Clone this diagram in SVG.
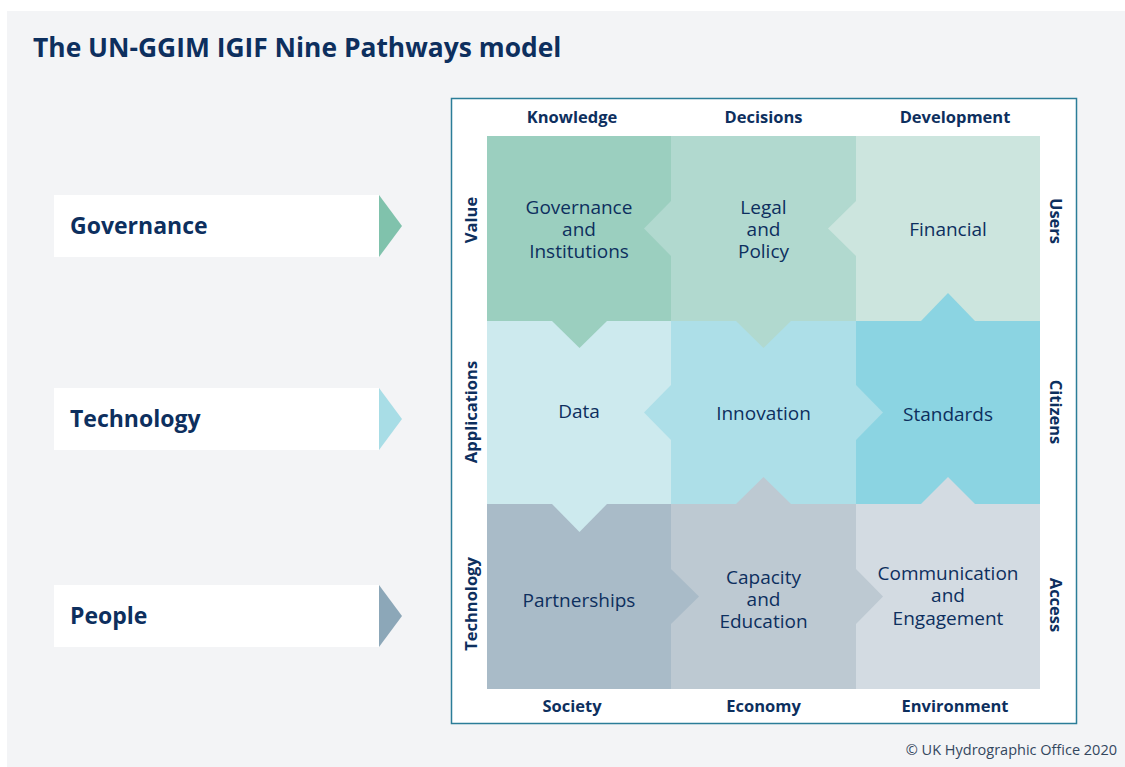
<svg xmlns="http://www.w3.org/2000/svg" width="1125" height="767" viewBox="0 0 1125 767">
  <style>
    text { font-family: "Open Sans", "Liberation Sans", sans-serif; fill: #0d2f5e; }
    .title { font-size: 26.4px; font-weight: 700; }
    .pillar { font-size: 23px; font-weight: 700; }
    .axis { font-size: 16.5px; font-weight: 700; text-anchor: middle; }
    .cell { font-size: 19px; text-anchor: middle; }
    .credit { font-size: 14.5px; text-anchor: end; fill: #33475e; }
    .box { fill: #ffffff; }
  </style>

  <!-- page background -->
  <rect x="0" y="0" width="1125" height="767" fill="#ffffff"/>
  <rect x="7" y="11" width="1118" height="756" fill="#f3f4f6"/>

  <text class="title" x="33" y="57">The UN-GGIM IGIF Nine Pathways model</text>

  <!-- strategic pillars -->
  <g id="pillar-governance">
    <rect class="box" x="54" y="195" width="325" height="62"/>
    <polygon points="379,195 402,226 379,257" fill="#80c2ac"/>
    <text class="pillar" x="70" y="234">Governance</text>
  </g>
  <g id="pillar-technology">
    <rect class="box" x="54" y="388" width="325" height="62"/>
    <polygon points="379,388 402,419 379,450" fill="#a8dde6"/>
    <text class="pillar" x="70" y="427">Technology</text>
  </g>
  <g id="pillar-people">
    <rect class="box" x="54" y="585" width="325" height="62"/>
    <polygon points="379,585 402,616 379,647" fill="#8ca7b8"/>
    <text class="pillar" x="70" y="624">People</text>
  </g>

  <!-- framed matrix -->
  <g id="frame">
    <rect x="451.5" y="98.5" width="625" height="625" fill="#ffffff" stroke="#2b7d98" stroke-width="1.5"/>
  </g>

  <!-- pathway cells -->
  <g id="cell-governance">
    <rect x="487" y="136" width="184" height="185" fill="#9bcfbf"/>
  </g>
  <g id="cell-legal">
    <rect x="671" y="136" width="185" height="185" fill="#b1d9cf"/>
  </g>
  <g id="cell-financial">
    <rect x="856" y="136" width="184" height="185" fill="#cce5de"/>
  </g>
  <g id="cell-data">
    <rect x="487" y="321" width="184" height="183" fill="#cdeaee"/>
  </g>
  <g id="cell-innovation">
    <rect x="671" y="321" width="185" height="183" fill="#addfe8"/>
  </g>
  <g id="cell-standards">
    <rect x="856" y="321" width="184" height="183" fill="#8bd4e2"/>
  </g>
  <g id="cell-partnerships">
    <rect x="487" y="504" width="184" height="185" fill="#a9bbc8"/>
  </g>
  <g id="cell-capacity">
    <rect x="671" y="504" width="185" height="185" fill="#bdc9d2"/>
  </g>
  <g id="cell-communication">
    <rect x="856" y="504" width="184" height="185" fill="#d3dbe2"/>
  </g>

  <!-- interlocking tabs between neighbouring cells -->
  <g id="connectors">
    <polygon points="552,321 579.5,348 607,321" fill="#9bcfbf"/>
    <polygon points="671,201 644,228.5 671,256" fill="#b1d9cf"/>
    <polygon points="736,321 763.5,348 791,321" fill="#b1d9cf"/>
    <polygon points="856,201 828,228.5 856,256" fill="#cce5de"/>
    <polygon points="552,504 579.5,532 607,504" fill="#cdeaee"/>
    <polygon points="671,385 644,412.5 671,440" fill="#addfe8"/>
    <polygon points="856,385 883,412.5 856,440" fill="#addfe8"/>
    <polygon points="921,321 948,293 975,321" fill="#8bd4e2"/>
    <polygon points="671,569 699,596.5 671,624" fill="#a9bbc8"/>
    <polygon points="736,504 763.5,477 791,504" fill="#bdc9d2"/>
    <polygon points="856,569 883,596.5 856,624" fill="#bdc9d2"/>
    <polygon points="921,504 948,477 975,504" fill="#d3dbe2"/>
  </g>

  <!-- cell labels -->
  <g id="cell-labels">
    <text class="cell" x="579" y="214">Governance</text>
    <text class="cell" x="579" y="236">and</text>
    <text class="cell" x="579" y="258">Institutions</text>
    <text class="cell" x="763.5" y="214">Legal</text>
    <text class="cell" x="763.5" y="236">and</text>
    <text class="cell" x="763.5" y="258">Policy</text>
    <text class="cell" x="948" y="236">Financial</text>
    <text class="cell" x="579" y="418">Data</text>
    <text class="cell" x="763.5" y="420">Innovation</text>
    <text class="cell" x="948" y="420.5">Standards</text>
    <text class="cell" x="579" y="607">Partnerships</text>
    <text class="cell" x="763.5" y="584">Capacity</text>
    <text class="cell" x="763.5" y="606">and</text>
    <text class="cell" x="763.5" y="628">Education</text>
    <text class="cell" x="948" y="580">Communication</text>
    <text class="cell" x="948" y="602">and</text>
    <text class="cell" x="948" y="625">Engagement</text>
  </g>

  <!-- matrix axis labels -->
  <g id="axis-labels">
    <text class="axis" x="572" y="123">Knowledge</text>
    <text class="axis" x="763.5" y="123">Decisions</text>
    <text class="axis" x="955" y="123">Development</text>
    <text class="axis" x="572" y="712">Society</text>
    <text class="axis" x="763.5" y="712">Economy</text>
    <text class="axis" x="955" y="712">Environment</text>
    <text class="axis" transform="translate(477,220) rotate(-90)">Value</text>
    <text class="axis" transform="translate(477,412) rotate(-90)">Applications</text>
    <text class="axis" transform="translate(477,604) rotate(-90)">Technology</text>
    <text class="axis" transform="translate(1050,221) rotate(90)">Users</text>
    <text class="axis" transform="translate(1050,412) rotate(90)">Citizens</text>
    <text class="axis" transform="translate(1050,605) rotate(90)">Access</text>
  </g>

  <text class="credit" x="1117" y="755">© UK Hydrographic Office 2020</text>
</svg>
